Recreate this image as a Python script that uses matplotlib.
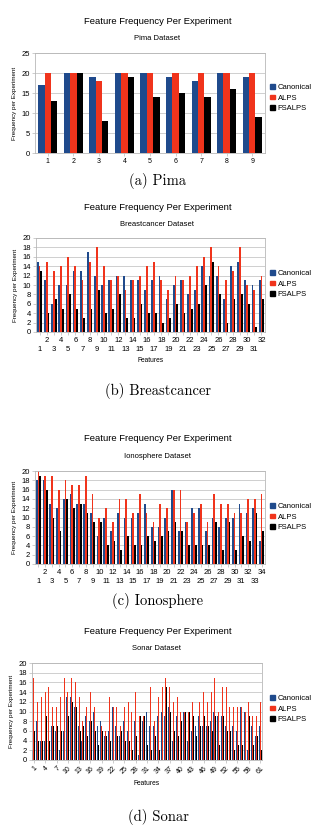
import numpy as np
import matplotlib
matplotlib.use('Agg')
import matplotlib.pyplot as plt
from matplotlib.patches import Patch

plt.rcParams['font.family'] = ['Liberation Sans', 'DejaVu Sans']

# data
series = ['Canonical', 'ALPS', 'FSALPS']
colors = ['#1f4a8c', '#f0341c', '#000000']

pima_canonical = [17, 20, 19, 20, 20, 19, 18, 20, 19]
pima_alps = [20, 20, 18, 20, 20, 20, 20, 20, 20]
pima_fsalps = [13, 20, 8, 19, 14, 15, 14, 16, 9]

breast_canonical = [15, 11, 6, 10, 10, 13, 13, 17, 12, 10, 11, 12, 12, 11, 11, 9,
                    11, 12, 7, 10, 11, 8, 9, 14, 12, 12, 7, 14, 15, 11, 10, 11]
breast_alps = [14, 15, 13, 14, 16, 14, 11, 15, 18, 14, 11, 12, 9, 11, 12, 14,
               15, 11, 9, 12, 11, 12, 14, 16, 18, 14, 11, 13, 18, 10, 9, 12]
breast_fsalps = [13, 4, 7, 5, 8, 5, 3, 5, 9, 4, 5, 8, 3, 3, 6, 4,
                 4, 2, 3, 6, 4, 5, 6, 10, 15, 8, 2, 7, 8, 6, 1, 7]

iono_canonical = [18, 18, 13, 12, 14, 15, 13, 13, 11, 6, 10, 7, 11, 10, 10, 11, 13,
                  8, 8, 10, 16, 7, 9, 12, 12, 7, 10, 8, 10, 10, 13, 11, 12, 5]
iono_alps = [20, 19, 19, 16, 18, 17, 17, 19, 15, 10, 12, 9, 14, 14, 11, 15, 11,
             9, 13, 12, 16, 16, 9, 11, 13, 9, 15, 13, 13, 11, 11, 14, 14, 15]
iono_fsalps = [19, 16, 10, 7, 14, 12, 13, 11, 9, 9, 4, 5, 3, 6, 4, 4, 6,
               5, 6, 7, 9, 7, 4, 4, 4, 4, 9, 3, 9, 3, 6, 5, 11, 7]

sonar_canonical = [2, 8, 4, 4, 4, 7, 6, 2, 6, 13, 13, 11, 7, 4, 9, 8, 10, 7, 8, 5,
                   6, 11, 7, 5, 8, 6, 4, 8, 1, 8, 10, 7, 7, 9, 10, 9, 11, 4, 9, 3,
                   10, 4, 6, 7, 9, 7, 7, 8, 10, 9, 9, 7, 8, 7, 6, 11, 10, 2, 7, 5, 7]
sonar_alps = [17, 12, 13, 14, 15, 11, 11, 13, 17, 14, 17, 16, 13, 8, 11, 14, 11, 13, 7, 6,
              13, 11, 11, 7, 11, 12, 10, 14, 9, 9, 13, 15, 8, 13, 15, 17, 15, 12, 13, 10,
              10, 10, 12, 9, 12, 14, 12, 14, 17, 10, 15, 15, 11, 11, 11, 11, 10, 12, 9, 9, 12]
sonar_fsalps = [6, 4, 4, 9, 4, 7, 7, 6, 10, 9, 12, 11, 6, 7, 5, 8, 6, 3, 6, 5,
                4, 7, 5, 6, 4, 4, 2, 5, 9, 9, 3, 2, 5, 2, 5, 15, 10, 6, 5, 8,
                10, 10, 9, 5, 7, 9, 7, 6, 9, 3, 9, 6, 6, 2, 3, 3, 5, 9, 3, 5, 2]

W, H = 318, 833
fig = plt.figure(figsize=(W / 100, H / 100), dpi=100)


def px_axes(x0, x1, ytop, ybot):
    return fig.add_axes([x0 / W, 1 - ybot / H, (x1 - x0) / W, (ybot - ytop) / H])


def panel(x0, x1, ytop, ybot, vals, name, ymax, ystep, title_y, leg_y):
    ax = px_axes(x0, x1, ytop, ybot)
    n = len(vals[0])
    x = np.arange(1, n + 1)
    w = 0.25
    for i, v in enumerate(vals):
        ax.bar(x + (i - 1) * w, v, w, color=colors[i], linewidth=0, zorder=2)
    ax.set_xlim(0.5, n + 0.5)
    ax.set_ylim(0, ymax)
    ax.set_yticks(np.arange(0, ymax + 1, ystep))
    ax.yaxis.grid(True, color='#c8c8c8', linewidth=0.6, zorder=0)
    for s in ax.spines.values():
        s.set_color('#b8b8b8')
        s.set_linewidth(0.6)
    ax.tick_params(axis='both', labelsize=5.5, length=2, width=0.5, color='#b8b8b8', pad=1.5)
    ax.set_ylabel('Frequency per Experiment', fontsize=4.5, labelpad=3)
    fig.text(158 / W, 1 - title_y / H, 'Feature Frequency Per Experiment',
             ha='center', va='center', fontsize=6.8)
    fig.text(157 / W, 1 - (title_y + 17) / H, name,
             ha='center', va='center', fontsize=5.5)
    handles = [Patch(color=c) for c in colors]
    fig.legend(handles, series, loc='upper left', frameon=False, fontsize=5.5,
               bbox_to_anchor=(270 / W, 1 - leg_y / H), handlelength=0.6,
               handleheight=0.6, handletextpad=0.4, labelspacing=0.45,
               borderaxespad=0, borderpad=0)
    return ax


def two_row_ticks(ax, n):
    # even numbers on the upper row, odd numbers on the lower row
    ev = list(range(2, n + 1, 2))
    od = list(range(1, n + 1, 2))
    ax.set_xticks(ev)
    ax.set_xticklabels([str(i) for i in ev], fontsize=5.5)
    ax.set_xticks(od, minor=True)
    ax.set_xticklabels([str(i) for i in od], minor=True, fontsize=5.5)
    ax.tick_params(axis='x', which='major', pad=1.5)
    ax.tick_params(axis='x', which='minor', pad=8, length=2, width=0.5, color='#b8b8b8')


# (a) Pima
ax1 = panel(35, 265, 53, 153, [pima_canonical, pima_alps, pima_fsalps],
            'Pima Dataset', 25, 5, 21, 84)
ax1.set_xticks(range(1, 10))
ax1.set_xticklabels([str(i) for i in range(1, 10)], fontsize=5)
fig.text(158 / W, 1 - 181 / H, '(a) Pima', ha='center', va='center',
         fontsize=10.5, family='cmr10')

# (b) Breastcancer
ax2 = panel(36, 265, 238, 332, [breast_canonical, breast_alps, breast_fsalps],
            'Breastcancer Dataset', 20, 2, 207, 270)
two_row_ticks(ax2, 32)
ax2.set_xlabel('Features', fontsize=4.8, labelpad=3)
fig.text(158 / W, 1 - 391 / H, '(b) Breastcancer', ha='center', va='center',
         fontsize=10.5, family='cmr10')

# (c) Ionosphere
ax3 = panel(35, 265, 471, 564, [iono_canonical, iono_alps, iono_fsalps],
            'Ionosphere Dataset', 20, 2, 439, 503)
two_row_ticks(ax3, 34)
fig.text(158 / W, 1 - 601 / H, '(c) Ionosphere', ha='center', va='center',
         fontsize=10.5, family='cmr10')

# (d) Sonar
ax4 = panel(32, 262, 663, 760, [sonar_canonical, sonar_alps, sonar_fsalps],
            'Sonar Dataset', 20, 2, 632, 695)
ax4.set_xticks(range(1, 62, 3))
ax4.set_xticklabels([str(i) for i in range(1, 62, 3)], rotation=45,
                    ha='right', rotation_mode='anchor', fontsize=5)
ax4.set_xlabel('Features', fontsize=4.8, labelpad=3)
fig.text(158 / W, 1 - 817 / H, '(d) Sonar', ha='center', va='center',
         fontsize=10.5, family='cmr10')

fig.savefig('out.png', dpi=100)
